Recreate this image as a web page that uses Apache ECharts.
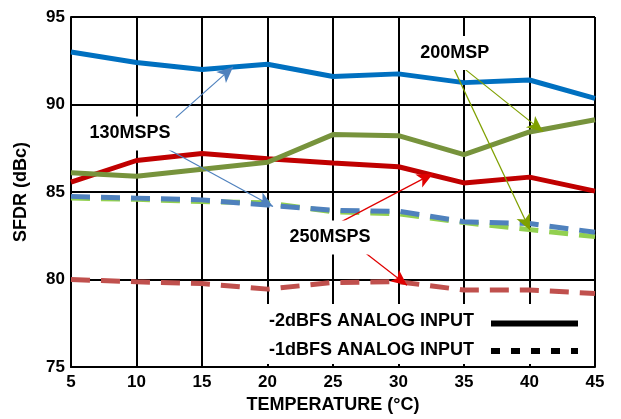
<!DOCTYPE html>
<html><head><meta charset="utf-8">
<script src="https://cdn.jsdelivr.net/npm/echarts@6/dist/echarts.min.js"></script>
<style>html,body{margin:0;padding:0;background:#fff}#c{width:621px;height:419px}</style>
</head><body><div id="c"></div>
<script>
var temps = [5,10,15,20,25,30,35,40,45];
var s130_2 = [93.0,92.4,92.0,92.3,91.6,91.75,91.25,91.4,90.35];
var s200_2 = [86.1,85.9,86.3,86.7,88.28,88.22,87.14,88.43,89.13];
var s250_2 = [85.56,86.8,87.2,86.9,86.66,86.44,85.52,85.85,85.05];
var s130_1 = [84.75,84.65,84.55,84.25,83.95,83.9,83.3,83.2,82.7];
var s200_1 = [84.65,84.58,84.45,84.38,83.87,83.75,83.25,82.85,82.45];
var s250_1 = [80.0,79.87,79.77,79.45,79.83,79.87,79.4,79.4,79.2];
var xTicks = [5,10,15,20,25,30,35,40,45];
var yTicks = [75,80,85,90,95];

// annotation arrows: [fromX, fromY, toX, toY] in data units
var arrows130 = [[13.0,89.25,17.37,92.15],[11.64,87.76,20.42,84.17]];
var arrows200 = [[34.85,92.15,41.03,88.45],[34.16,92.15,40.04,82.81]];
var arrows250 = [[25.69,83.32,32.63,86.05],[27.21,81.67,30.65,79.67]];
var labels = [
  {name:'130MSPS', x:9.5, y:88.35},
  {name:'200MSP', x:34.3, y:92.95},
  {name:'250MSPS', x:24.77, y:82.4}
];
var legendItems = ['-2dBFS ANALOG INPUT','-1dBFS ANALOG INPUT'];

function pairs(a){return temps.map(function(t,i){return [t,a[i]];});}
function arrowData(list){return list.map(function(a){return [{coord:[a[0],a[1]]},{coord:[a[2],a[3]]}];});}

var FONT = '"Liberation Sans", Arial, sans-serif';
var chart = echarts.init(document.getElementById('c'));

var dash = [19,11];
var series = [
  {name:'250 -1', data:pairs(s250_1), color:'#C0504D', dashed:true},
  {name:'200 -1', data:pairs(s200_1), color:'#92D050', dashed:true},
  {name:'130 -1', data:pairs(s130_1), color:'#4F81BD', dashed:true},
  {name:'250 -2', data:pairs(s250_2), color:'#C00000', dashed:false},
  {name:'200 -2', data:pairs(s200_2), color:'#77933C', dashed:false},
  {name:'130 -2', data:pairs(s130_2), color:'#0070C0', dashed:false}
].map(function(s){
  return {type:'line', name:s.name, data:s.data, symbol:'none', smooth:false, z:3,
    lineStyle:{color:s.color, width:5, type:s.dashed?dash:'solid', cap:'butt'}};
});

function arrowSeries(list,color){
  return {type:'line', data:[], z:5,
    markLine:{silent:true, symbol:['none','arrow'], symbolSize:[11,16], animation:false,
      label:{show:false}, lineStyle:{color:color, width:1.2, type:'solid'},
      data:arrowData(list)}};
}
series.push(arrowSeries(arrows130,'#4F81BD'));
series.push(arrowSeries(arrows200,'#7FA000'));
series.push(arrowSeries(arrows250,'#E00000'));
series.push({type:'line', data:[], z:6,
  markPoint:{silent:true, symbol:'rect', symbolSize:1, itemStyle:{color:'rgba(0,0,0,0)'}, animation:false,
    label:{show:true, position:'inside', color:'#000', fontFamily:FONT, fontWeight:'bold', fontSize:18,
      backgroundColor:'#fff', padding:[8,4], formatter:function(p){return p.name;}},
    data:labels.map(function(l){return {name:l.name, coord:[l.x,l.y]};})}
});

var option = {
  animation:false,
  backgroundColor:'#fff',
  grid:{left:71, right:26, top:17, bottom:51, containLabel:false},
  xAxis:{type:'value', min:5, max:45, interval:5,
    name:'TEMPERATURE (°C)', nameLocation:'middle', nameGap:29,
    nameTextStyle:{color:'#000', fontFamily:FONT, fontWeight:'bold', fontSize:18},
    axisLine:{show:true, lineStyle:{color:'#000', width:2}},
    axisTick:{show:false},
    axisLabel:{color:'#000', fontFamily:FONT, fontWeight:'bold', fontSize:17, margin:7,
      formatter:function(v){return xTicks.indexOf(v)>=0?String(v):'';}},
    splitLine:{show:true, lineStyle:{color:'#000', width:2}}},
  yAxis:{type:'value', min:75, max:95, interval:5,
    name:'SFDR (dBc)', nameLocation:'middle', nameGap:41,
    nameTextStyle:{color:'#000', fontFamily:FONT, fontWeight:'bold', fontSize:18},
    axisLine:{show:true, lineStyle:{color:'#000', width:2}},
    axisTick:{show:false},
    axisLabel:{color:'#000', fontFamily:FONT, fontWeight:'bold', fontSize:17, margin:6,
      formatter:function(v){return yTicks.indexOf(v)>=0?String(v):'';}},
    splitLine:{show:true, lineStyle:{color:'#000', width:2}}},
  series:series,
  graphic:[
    {type:'rect', z:100, shape:{x:264, y:304, width:328, height:60}, style:{fill:'#fff'}},
    {type:'text', z:101, left:269, top:312, style:{text:legendItems[0], fill:'#000', font:'bold 18px '+FONT}},
    {type:'text', z:101, left:269, top:341, style:{text:legendItems[1], fill:'#000', font:'bold 18px '+FONT}},
    {type:'line', z:101, shape:{x1:491, y1:323.5, x2:578, y2:323.5}, style:{stroke:'#000', lineWidth:6}},
    {type:'line', z:101, shape:{x1:491, y1:351, x2:578, y2:351}, style:{stroke:'#000', lineWidth:6, lineDash:[9,11]}}
  ]
};
chart.setOption(option);
</script></body></html>
